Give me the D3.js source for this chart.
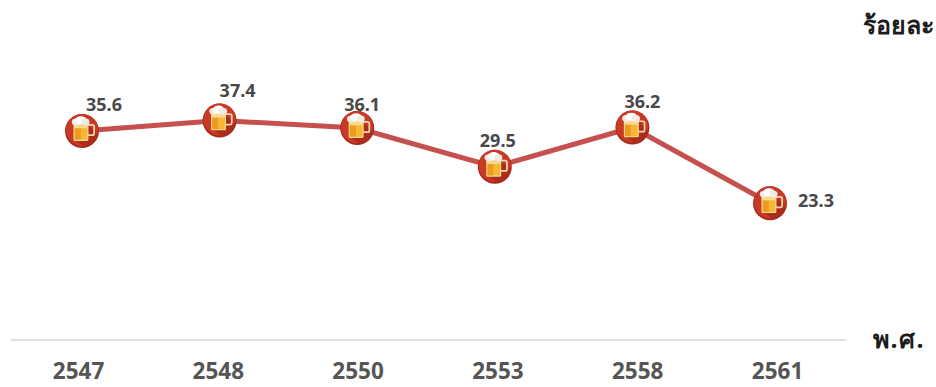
<!DOCTYPE html>
<html>
<head>
<meta charset="utf-8">
<script src="https://cdn.jsdelivr.net/npm/d3@7"></script>
<style>
  body { margin: 0; background: #fff; }
  text { font-family: "Noto Sans", "Open Sans", sans-serif; font-weight: 700; }
  .value { font-size: 18px; fill: #484848; }
  .tick text { font-size: 22.5px; fill: #555; }
  .unit { font-size: 25px; fill: #1c1c1c; }
</style>
</head>
<body>
<div id="chart"></div>
<script>
var years = ["2547", "2548", "2550", "2553", "2558", "2561"];
var rates = [35.6, 37.4, 36.1, 29.5, 36.2, 23.3];
//label offset from the marker centre, one per year
var labelDx = [22, 18, 5, 3, 10, 46];
var labelDy = [-20, -23, -17, -20, -20, 4];

var width = 936,
    height = 387,
    baseline = 340;

var svg = d3.select("#chart")
    .append("svg")
    .attr("width", width)
    .attr("height", height)
    .style("display", "block");

var x = d3.scalePoint().domain(years).range([82, 770]);
var xLabels = d3.scalePoint().domain(years).range([78, 777]);
var y = d3.scaleLinear().domain([0, 50]).range([baseline, 46.5]);

//baseline
svg.append("line")
    .attr("x1", 11)
    .attr("x2", 846)
    .attr("y1", baseline)
    .attr("y2", baseline)
    .attr("stroke", "#e0e0e0")
    .attr("stroke-width", 2);

//year labels under the baseline
var axis = svg.append("g")
    .attr("transform", "translate(0," + baseline + ")")
    .call(d3.axisBottom(xLabels).tickSize(0).tickPadding(23));
axis.select(".domain").remove();

//connecting line
var line = d3.line()
    .x(function(d, i) { return x(years[i]); })
    .y(function(d) { return y(d); });

svg.append("path")
    .datum(rates)
    .attr("d", line)
    .attr("fill", "none")
    .attr("stroke", "#c5504e")
    .attr("stroke-width", 5);

//beer mug markers
var markers = svg.selectAll(".marker")
    .data(rates)
    .enter()
    .append("g")
    .attr("class", "marker")
    .attr("transform", function(d, i) { return "translate(" + x(years[i]) + "," + y(d) + ")"; });

markers.append("circle").attr("r", 17).attr("fill", "#a82a1c");
markers.append("circle").attr("r", 16).attr("cy", -1).attr("fill", "#c93a26");
//shaded side of the disc below the mug
markers.append("path")
    .attr("d", "M-8,-6 L6,-6 L16,4 A17,17 0 0 1 3,16 L-8,8 Z")
    .attr("fill", "#ab2c1d");

var mug = markers.append("g").attr("transform", "translate(-0.5,-0.5) scale(1.15)");
//handle
mug.append("rect")
    .attr("x", 5).attr("y", -5).attr("width", 6).attr("height", 9).attr("rx", 1.5)
    .attr("fill", "none").attr("stroke", "#f0d9a8").attr("stroke-width", 1.5);
//glass and beer
mug.append("rect")
    .attr("x", -7).attr("y", -8).attr("width", 13).attr("height", 17).attr("rx", 1)
    .attr("fill", "#f7d98f");
mug.append("rect")
    .attr("x", -6).attr("y", -2).attr("width", 5.5).attr("height", 10).attr("fill", "#ee9a1e");
mug.append("rect")
    .attr("x", -0.5).attr("y", -2).attr("width", 5.5).attr("height", 10).attr("fill", "#f7b733");
//foam
mug.append("ellipse").attr("cx", -4.5).attr("cy", -7.5).attr("rx", 4).attr("ry", 3).attr("fill", "#f1ebe3");
mug.append("ellipse").attr("cx", -0.5).attr("cy", -9).attr("rx", 5).attr("ry", 3.5).attr("fill", "#fff");
mug.append("ellipse").attr("cx", 3.5).attr("cy", -7.5).attr("rx", 3.5).attr("ry", 3).attr("fill", "#f1ebe3");

//value labels
svg.selectAll(".value")
    .data(rates)
    .enter()
    .append("text")
    .attr("class", "value")
    .attr("text-anchor", "middle")
    .attr("x", function(d, i) { return x(years[i]) + labelDx[i]; })
    .attr("y", function(d, i) { return y(d) + labelDy[i]; })
    .text(function(d) { return d.toFixed(1); });

//unit captions
svg.append("text")
    .attr("class", "unit")
    .attr("x", 863)
    .attr("y", 34)
    .text("ร้อยละ");

svg.append("text")
    .attr("class", "unit")
    .attr("x", 873)
    .attr("y", 348)
    .style("letter-spacing", "1.5px")
    .text("พ.ศ.");
</script>
</body>
</html>
